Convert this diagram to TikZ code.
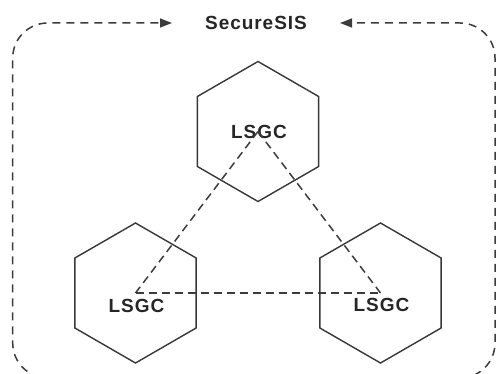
\documentclass[tikz,border=0pt]{standalone}
\usepackage{fontspec}
\setmainfont{Liberation Sans}
\newfontfamily\gcfont[LetterSpace=5]{Liberation Sans}
\usetikzlibrary{shapes.geometric,arrows.meta}
\definecolor{framegray}{RGB}{60,60,60}
\definecolor{cellgray}{RGB}{55,55,55}

\begin{document}
\begin{tikzpicture}[x=1pt, y=-1pt,
    cell/.style={regular polygon, regular polygon sides=6, shape border rotate=30,
        minimum size=140pt, inner sep=0pt, draw=cellgray, line width=1.4pt},
    gclabel/.style={font=\gcfont\bfseries\fontsize{19}{21}\selectfont, text=black!85, inner sep=0pt},
    link/.style={draw=framegray, line width=1.5pt, dash pattern=on 8pt off 5pt},
    frame/.style={draw=framegray, line width=1.5pt, dash pattern=on 8pt off 6pt,
        rounded corners=35pt, -{Triangle[length=12pt,width=9pt]}}]
        \useasboundingbox (0,0) rectangle (497,374);
        \clip (0,0) rectangle (497,374);

        % Title
        \node[gclabel, inner xsep=33pt, inner ysep=2pt] (sis) at (256,23) {SecureSIS};

        % Outer frame (bottom edge lies below the picture)
        \coordinate (base) at (250,378);
        \draw[frame] (base) -- (12.7,378) -- (12.7,23) -- (sis.west);
        \draw[frame] (base) -- (495,378) -- (495,23) -- (sis.east);

        % LSGC cells
        \foreach \name/\x/\y/\dy in {gcTop/258/131.5/0, gcLeft/135.5/293/12.5, gcRight/380.5/293/11.5} {
            \node[cell] (\name) at (\x,\y) {};
            \node[gclabel] (\name L) at (\x+1,\y+\dy) {LSGC};
        }

        % Links between cells
        \draw[link] (gcTop.center) -- (gcLeft.center);
        \draw[link] (gcTop.center) -- (gcRight.center);
        \draw[link] (gcLeft.center) -- (gcRight.center);
    \end{tikzpicture}
\end{document}
